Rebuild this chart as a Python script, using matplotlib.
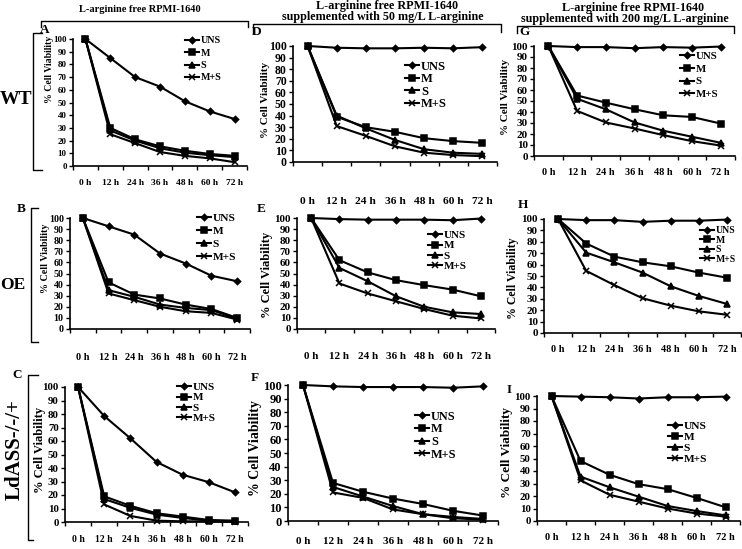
import matplotlib
matplotlib.use('Agg')
import matplotlib.pyplot as plt
from matplotlib.lines import Line2D

plt.rcParams['font.family'] = ['Liberation Serif', 'DejaVu Serif']
plt.rcParams['font.weight'] = 'bold'

W, H = 742, 549

hours = ['0 h', '12 h', '24 h', '36 h', '48 h', '60 h', '72 h']
series = ['UNS', 'M', 'S', 'M+S']

# WT
a_uns = [100, 85, 70, 62.5, 51, 43, 37]
a_m = [100, 30, 21, 15.5, 12, 9.5, 8]
a_s = [100, 28, 20, 14, 10.5, 8.5, 7]
a_ms = [100, 25, 18, 11, 8, 6, 3]

d_uns = [100, 98.5, 98, 98, 98.5, 98, 99]
d_m = [100, 39, 30, 26, 20.5, 18, 16.5]
d_s = [100, 40, 29, 19, 11, 8, 7]
d_ms = [100, 31, 22.5, 13.5, 8, 6, 5]

g_uns = [100, 99, 99, 98, 99, 98.5, 99.5]
g_m = [100, 55, 48.5, 42.5, 37, 35.5, 29.5]
g_s = [100, 52, 42.5, 30.5, 23, 17.5, 12]
g_ms = [100, 41, 30.5, 25, 19, 13.5, 9.5]

# OE
b_uns = [100, 92.5, 85, 68, 59, 48, 43]
b_m = [100, 42, 31, 27.5, 22, 18, 10]
b_s = [100, 35, 29, 22, 19, 17, 9.5]
b_ms = [100, 32, 26, 20, 16, 14.5, 8.5]

e_uns = [100, 99, 98.5, 98.5, 98.5, 98, 99.5]
e_m = [100, 62, 51, 44, 39.5, 35.5, 29.5]
e_s = [100, 55, 43, 29.5, 20, 15, 13.5]
e_ms = [100, 41, 32, 25, 18, 12, 9.5]

h_uns = [100, 99, 99, 97.5, 98.5, 98.5, 99.5]
h_m = [100, 78.5, 67, 62, 58.5, 53, 48.5]
h_s = [100, 70.5, 62, 53, 41, 32.5, 25.5]
h_ms = [100, 54.5, 42, 30.5, 24, 19, 16]

# LdASS-/-/+
c_uns = [100, 78.5, 62, 44.5, 35, 29.5, 22]
c_m = [100, 19, 12, 6.5, 4, 1.5, 1]
c_s = [100, 17, 10.5, 5.5, 3, 1, 0.5]
c_ms = [100, 13, 4.5, 1, 0.5, 0.5, 0]

f_uns = [100, 99, 98.5, 98.5, 98.5, 98, 99]
f_m = [100, 28, 21.5, 16.5, 12.5, 7.5, 4]
f_s = [100, 25, 18, 11, 5, 3, 1.5]
f_ms = [100, 21, 17, 8.5, 5, 2, 1]

i_uns = [100, 99.5, 99, 98, 99, 99, 99.5]
i_m = [100, 48, 37, 29.5, 25.5, 18.5, 11]
i_s = [100, 35.5, 27, 19.5, 12, 8, 4.5]
i_ms = [100, 32.5, 21, 15.5, 10, 6, 3.5]

markers = {'UNS': ('D', 3.2), 'M': ('s', 4.8), 'S': ('^', 4.8), 'M+S': ('x', 4.8)}

# panel layout in pixels:
# box=(left, right, y100, y0), tick fs, xlabel y, xlabel fs, ylabel fs, ylabel (x, y),
# legend fs, legend (x, y of first entry), legend row step, letter (x, y)
panels = [
    ('A', [a_uns, a_m, a_s, a_ms], (73, 247, 39, 166), 6.5, 183, 6.8, 7, (49, 69), 7.2, (185, 42), 15, (45, 30)),
    ('D', [d_uns, d_m, d_s, d_ms], (293, 497, 46, 162), 8.5, 202, 8.2, 8, (265, 100), 9, (405, 68), 11.5, (257, 32)),
    ('G', [g_uns, g_m, g_s, g_ms], (534, 735, 46, 156), 8, 173, 7.4, 8, (506, 97), 7.8, (680, 58), 15.5, (524, 32)),
    ('B', [b_uns, b_m, b_s, b_ms], (70, 250, 218, 329), 7.2, 358, 7.4, 7.2, (45, 258), 8.2, (197, 220), 16, (21, 209)),
    ('E', [e_uns, e_m, e_s, e_ms], (297, 495, 218, 329), 8, 357, 8, 9, (267, 275), 8, (428, 237), 12.5, (261, 209)),
    ('H', [h_uns, h_m, h_s, h_ms], (544, 741, 219, 333), 8, 350, 7.4, 8.5, (513, 278), 7, (700, 232), 11, (523, 205)),
    ('C', [c_uns, c_m, c_s, c_ms], (65, 248, 387, 522), 7.8, 539, 7, 9, (40, 450), 8, (177, 389), 11, (17, 375)),
    ('F', [f_uns, f_m, f_s, f_ms], (288, 498, 385, 521), 9, 542, 8, 10, (256, 448), 8.8, (415, 418), 14.5, (255, 378)),
    ('I', [i_uns, i_m, i_s, i_ms], (537, 740, 396, 521), 7.8, 538, 7.5, 9.5, (507, 453), 8.2, (668, 428), 14, (509, 390)),
]

PT = 100 / 72.0

fig = plt.figure(figsize=(W / 100, H / 100), dpi=100)

x = list(range(len(hours)))
for (letter, values, box, tfs, xly, xfs, yfs, ylpos, lfs, lpos, lstep, lettpos) in panels:
    l, r, t, b = box
    ax = fig.add_axes([l / W, 1 - b / H, (r - l) / W, (b - t) / H])
    for name, vals in zip(series, values):
        m, ms = markers[name]
        ax.plot(x, vals, color='black', lw=1.5, marker=m, ms=ms, mew=1.1,
                clip_on=False, label=name)
    ax.set_xlim(-0.5, len(hours) - 0.5)
    ax.set_ylim(0, 100)
    ax.set_yticks(range(0, 101, 10))
    ax.tick_params(axis='y', labelsize=tfs, length=3, width=1, pad=1.5)
    # excel style: ticks on category boundaries, labels at centres
    ax.set_xticks([k - 0.5 for k in range(len(hours) + 1)])
    ax.set_xticklabels([])
    ax.set_xticks(x, minor=True)
    pad = (xly - b - xfs * PT * 0.45) / PT
    ax.set_xticklabels(hours, minor=True, fontsize=xfs)
    ax.tick_params(axis='x', which='major', length=3, width=1)
    ax.tick_params(axis='x', which='minor', length=0, pad=pad)
    for s in ['top', 'right']:
        ax.spines[s].set_visible(False)
    for s in ['left', 'bottom']:
        ax.spines[s].set_linewidth(1.2)
    fig.text(ylpos[0] / W, 1 - ylpos[1] / H, '% Cell Viability', fontsize=yfs,
             rotation=90, ha='center', va='center')
    fpx = lfs * PT
    ax.legend(loc='upper left', frameon=False, fontsize=lfs, borderpad=0,
              borderaxespad=0, handlelength=14 / fpx, handletextpad=0.15,
              labelspacing=max(lstep / fpx - 1.15, 0.05),
              bbox_to_anchor=(lpos[0] / W, 1 - (lpos[1] - fpx * 0.6) / H),
              bbox_transform=fig.transFigure)
    fig.text(lettpos[0] / W, 1 - lettpos[1] / H, letter, fontsize=9.5,
             ha='center', va='center')


def bracket(xs, ys):
    fig.add_artist(Line2D([v / W for v in xs], [1 - v / H for v in ys],
                          color='black', lw=1.0, transform=fig.transFigure))


bracket([41, 41, 248, 248], [27, 21, 21, 27])
bracket([253, 253, 501, 501], [33, 24, 24, 32])
bracket([517, 517, 734, 734], [33, 26, 26, 33])
bracket([42, 33, 33, 42], [33, 33, 170, 170])
bracket([38, 31, 31, 38], [208, 208, 342, 342])
bracket([38, 28, 28, 33], [375, 375, 540, 540])

fig.text(140 / W, 1 - 10 / H, 'L-arginine free RPMI-1640', fontsize=7.5,
         ha='center', va='center')
fig.text(387 / W, 1 - 6 / H, 'L-arginine free RPMI-1640', fontsize=8.7,
         ha='center', va='center')
fig.text(383 / W, 1 - 17 / H, 'supplemented with 50 mg/L L-arginine', fontsize=8.7,
         ha='center', va='center')
fig.text(633 / W, 1 - 8 / H, 'L-arginine free RPMI-1640', fontsize=8.7,
         ha='center', va='center')
fig.text(625 / W, 1 - 19 / H, 'supplemented with 200 mg/L L-arginine', fontsize=8.7,
         ha='center', va='center')

fig.text(16 / W, 1 - 100 / H, 'WT', fontsize=14, ha='center', va='center')
fig.text(13 / W, 1 - 285 / H, 'OE', fontsize=12.5, ha='center', va='center')
fig.text(15 / W, 1 - 450 / H, 'LdASS-/-/+', fontsize=15, ha='center',
         va='center', rotation=90)

fig.savefig('out.png', dpi=100)
